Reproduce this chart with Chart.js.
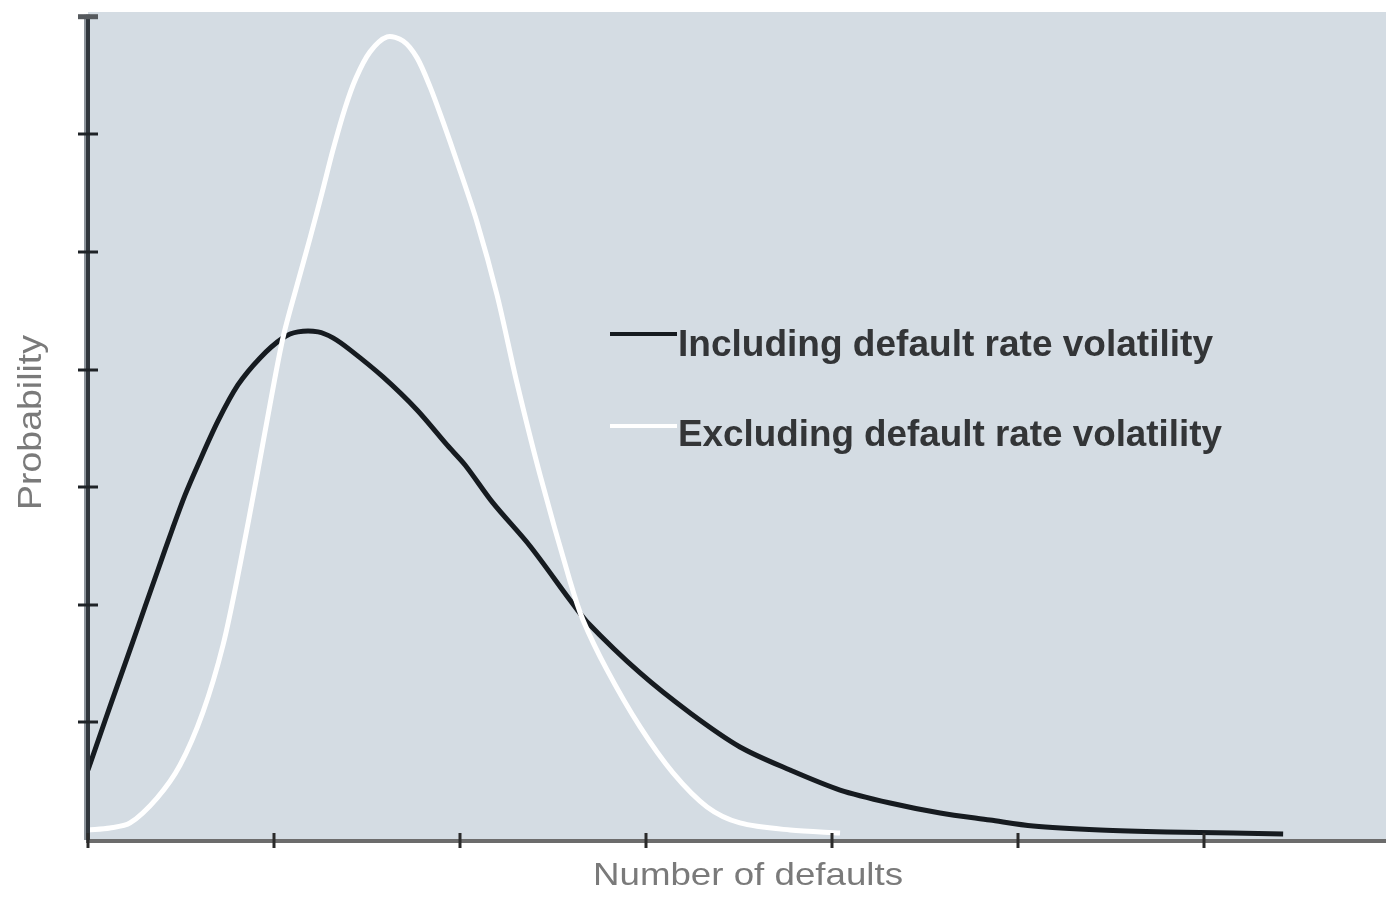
<!DOCTYPE html>
<html>
<head>
<meta charset="utf-8">
<script src="https://cdn.jsdelivr.net/npm/chart.js@4.4.1/dist/chart.umd.min.js"></script>
<style>
html,body{margin:0;padding:0;background:#ffffff;}
#wrap{width:1386px;height:902px;position:relative;}
</style>
</head>
<body>
<div id="wrap"><canvas id="c"></canvas></div>
<script>
// ---- data ----
const seriesLabels = ['Including default rate volatility', 'Excluding default rate volatility'];
const xTitle = 'Number of defaults';
const yTitle = 'Probability';

const xIncluding = [0.000, 0.091, 0.161, 0.237, 0.306, 0.376, 0.452, 0.522, 0.591, 0.699, 0.806, 0.925, 1.048, 1.129, 1.237, 1.317, 1.409, 1.586, 1.769, 1.930, 2.027, 2.177, 2.376, 2.591, 2.683, 2.968, 3.237, 3.505, 3.774, 4.043, 4.312, 4.581, 4.849, 5.081, 5.441, 5.801, 6.156, 6.425];
const yIncluding = [0.595, 1.012, 1.327, 1.667, 1.981, 2.296, 2.636, 2.934, 3.189, 3.563, 3.869, 4.099, 4.269, 4.320, 4.320, 4.269, 4.167, 3.937, 3.656, 3.359, 3.189, 2.866, 2.500, 2.041, 1.854, 1.420, 1.080, 0.791, 0.595, 0.425, 0.315, 0.230, 0.170, 0.119, 0.085, 0.068, 0.060, 0.051];

const xExcluding = [0.000, 0.118, 0.226, 0.371, 0.495, 0.618, 0.726, 0.817, 0.909, 0.978, 1.048, 1.124, 1.194, 1.258, 1.317, 1.382, 1.441, 1.516, 1.608, 1.694, 1.769, 1.839, 1.909, 1.984, 2.091, 2.199, 2.306, 2.430, 2.591, 2.661, 2.790, 2.968, 3.145, 3.328, 3.505, 3.774, 4.043];
const yExcluding = [0.085, 0.102, 0.145, 0.357, 0.638, 1.088, 1.658, 2.338, 3.104, 3.699, 4.269, 4.719, 5.119, 5.502, 5.867, 6.224, 6.480, 6.701, 6.828, 6.794, 6.650, 6.403, 6.105, 5.765, 5.255, 4.634, 3.886, 3.104, 2.202, 1.871, 1.446, 0.961, 0.570, 0.281, 0.145, 0.085, 0.060];

const xTickValues = [0, 1, 2, 3, 4, 5, 6];
const yTickValues = [1, 2, 3, 4, 5, 6];
const yTopValue = 7;
const xRange = [0, 6.978];
const yRange = [0, 7.04];

const toPoints = (xs, ys) => xs.map((x, i) => ({ x: x, y: ys[i] }));

// ---- decoration plugin: background, axes, ticks, titles, legend ----
function fitText(ctx, text, x, y, targetW) {
  const w = ctx.measureText(text).width;
  ctx.save();
  ctx.translate(x, y);
  ctx.scale(targetW / w, 1);
  ctx.fillText(text, 0, 0);
  ctx.restore();
}

const decor = {
  id: 'decor',
  beforeDatasetsDraw(chart) {
    const { ctx, chartArea: a } = chart;
    ctx.save();
    ctx.fillStyle = '#d4dce3';
    ctx.fillRect(a.left, a.top, a.right - a.left, a.bottom - a.top);
    ctx.restore();
  },
  afterDatasetsDraw(chart) {
    const { ctx, chartArea: a } = chart;
    const xs = chart.scales.x, ys = chart.scales.y;
    const x0 = xs.getPixelForValue(0);
    const y0 = ys.getPixelForValue(0);
    const yTop = ys.getPixelForValue(yTopValue);
    ctx.save();
    // x axis line
    ctx.strokeStyle = '#6c6c6c';
    ctx.lineWidth = 4;
    ctx.beginPath();
    ctx.moveTo(x0 - 2, y0 + 1);
    ctx.lineTo(a.right, y0 + 1);
    ctx.stroke();
    // y axis line (soft halo + dark core)
    ctx.strokeStyle = '#8e959c';
    ctx.lineWidth = 6;
    ctx.beginPath();
    ctx.moveTo(x0 - 1, yTop - 2);
    ctx.lineTo(x0 - 1, y0);
    ctx.stroke();
    ctx.strokeStyle = '#30363c';
    ctx.lineWidth = 4;
    ctx.beginPath();
    ctx.moveTo(x0, yTop - 2);
    ctx.lineTo(x0, y0);
    ctx.stroke();
    // y top cap
    ctx.strokeStyle = '#55595d';
    ctx.lineWidth = 5;
    ctx.beginPath();
    ctx.moveTo(x0 - 10, yTop);
    ctx.lineTo(x0 + 10, yTop);
    ctx.stroke();
    // y ticks
    ctx.strokeStyle = '#1e2226';
    ctx.lineWidth = 3;
    yTickValues.forEach(v => {
      const py = Math.round(ys.getPixelForValue(v));
      ctx.beginPath();
      ctx.moveTo(x0 - 10, py);
      ctx.lineTo(x0 + 10, py);
      ctx.stroke();
    });
    // x ticks
    ctx.strokeStyle = '#2a2a2a';
    ctx.lineWidth = 3;
    xTickValues.forEach(v => {
      const px = Math.round(xs.getPixelForValue(v));
      ctx.beginPath();
      ctx.moveTo(px, y0 - 7);
      ctx.lineTo(px, y0 + 8);
      ctx.stroke();
    });
    // axis titles
    ctx.fillStyle = '#7a7a7a';
    ctx.textBaseline = 'alphabetic';
    ctx.textAlign = 'left';
    ctx.font = '32px "Liberation Sans", Arial, sans-serif';
    fitText(ctx, xTitle, 593, 885, 310);
    ctx.save();
    ctx.translate(41, 510);
    ctx.rotate(-Math.PI / 2);
    ctx.font = '34px "Liberation Sans", Arial, sans-serif';
    fitText(ctx, yTitle, 0, 0, 175);
    ctx.restore();
    // legend
    const legendColors = ['#161b20', '#ffffff'];
    const legendY = [334, 426];
    const legendBase = [356, 446];
    const legendW = [535, 544];
    ctx.font = 'bold 36px "Liberation Sans", Arial, sans-serif';
    ctx.fillStyle = '#333537';
    for (let i = 0; i < 2; i++) {
      ctx.strokeStyle = legendColors[i];
      ctx.lineWidth = 4;
      ctx.beginPath();
      ctx.moveTo(610, legendY[i]);
      ctx.lineTo(677, legendY[i]);
      ctx.stroke();
      fitText(ctx, seriesLabels[i], 678, legendBase[i], legendW[i]);
    }
    ctx.restore();
  }
};

new Chart(document.getElementById('c'), {
  type: 'line',
  data: {
    datasets: [
      {
        label: seriesLabels[1],
        data: toPoints(xExcluding, yExcluding),
        borderColor: '#ffffff',
        borderWidth: 5,
        pointRadius: 0,
        tension: 0.3,
        fill: false
      },
      {
        label: seriesLabels[0],
        data: toPoints(xIncluding, yIncluding),
        borderColor: '#161b20',
        borderWidth: 5,
        pointRadius: 0,
        tension: 0.3,
        fill: false
      }
    ]
  },
  options: {
    responsive: true,
    maintainAspectRatio: false,
    devicePixelRatio: 1,
    animation: false,
    layout: { padding: { left: 88, right: 0, top: 12, bottom: 62 } },
    plugins: { legend: { display: false }, tooltip: { enabled: false } },
    scales: {
      x: { type: 'linear', min: xRange[0], max: xRange[1], display: false },
      y: { type: 'linear', min: yRange[0], max: yRange[1], display: false }
    }
  },
  plugins: [decor]
});
</script>
</body>
</html>
